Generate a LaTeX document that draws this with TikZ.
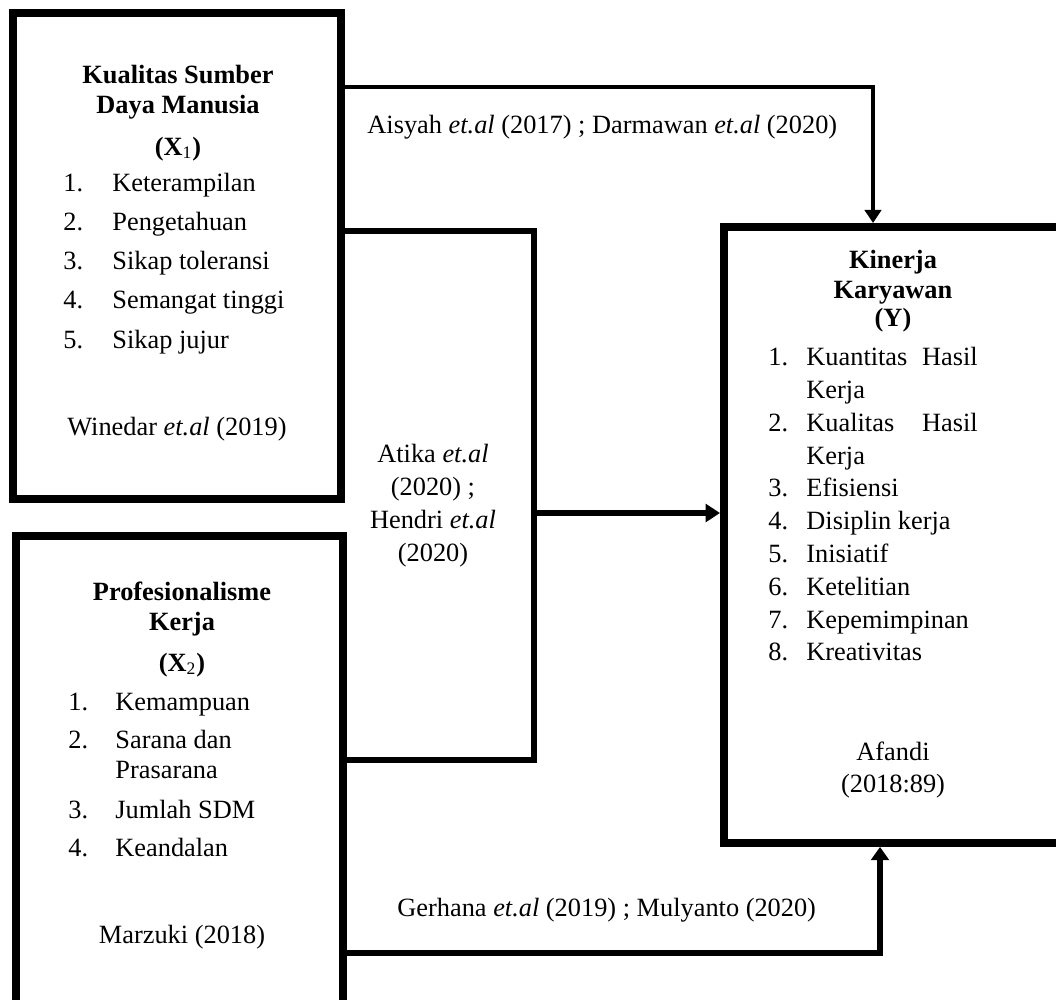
\documentclass[tikz,border=0pt]{standalone}
\usepackage{fontspec}
\setmainfont{Liberation Serif}
\usetikzlibrary{arrows.meta}

\newcommand{\pxu}{0.016cm}
\newcommand{\ukuran}{\fontsize{12}{15}\selectfont}

\tikzset{
	varbox/.style={draw, line width=3.6pt, anchor=north west, inner sep=0pt},
	judul/.style={anchor=base, inner sep=0pt, font=\ukuran\bfseries},
	butir/.style={anchor=base west, inner sep=0pt, font=\ukuran},
	sumber/.style={anchor=base, inner sep=0pt, font=\ukuran},
	hubung/.style={line width=2.5pt}
}

\begin{document}
\begin{tikzpicture}[
						x=\pxu,
						y=-\pxu,
						line join=miter
						]
						
						% Batas gambar
						\useasboundingbox[fill=white] (0,0) rectangle (1056,999);
						
						% Kotak variabel
						\node[varbox, minimum width=328*\pxu, minimum height=486*\pxu] (sdm) at (9,9) {};
						\node[varbox, minimum width=327*\pxu, minimum height=480*\pxu] (prof) at (12,532) {};
						\node[varbox, minimum width=338*\pxu, minimum height=616*\pxu] (kin) at (720,223) {};
						
						% Variabel X1
						\node[judul] (sdmj1) at (178,83) {Kualitas Sumber};
						\node[judul] (sdmj2) at (178,113) {Daya Manusia};
						\node[judul] (sdmj3) at (178,155) {(X\textsubscript{\mdseries 1})};
						\foreach \t [count=\n] in {
							Keterampilan,
							Pengetahuan,
							Sikap toleransi,
							Semangat tinggi,
							Sikap jujur
						}{
							\node[butir] (sdmn\n) at (63,{191+39.25*(\n-1)}) {\n.};
							\node[butir] (sdmi\n) at (112,{191+39.25*(\n-1)}) {\t};
						}
						\node[sumber] (sdms) at (177,435) {Winedar \textit{et.al} (2019)};
						
						% Variabel X2
						\node[judul] (profj1) at (182,600) {Profesionalisme};
						\node[judul] (profj2) at (182,630) {Kerja};
						\node[judul] (profj3) at (182,671) {(X\textsubscript{\mdseries 2})};
						\foreach \y/\t [count=\n] in {
							710/Kemampuan,
							748/Sarana dan,
							818/Jumlah SDM,
							856/Keandalan
						}{
							\node[butir] (profn\n) at (68,\y) {\n.};
							\node[butir] (profi\n) at (115,\y) {\t};
						}
						\node[butir] (profi2b) at (115,778) {Prasarana};
						\node[sumber] (profs) at (182,943) {Marzuki (2018)};
						
						% Variabel Y
						\node[judul] (kinj1) at (893,268) {Kinerja};
						\node[judul] (kinj2) at (893,298) {Karyawan};
						\node[judul] (kinj3) at (893,326) {(Y)};
						\foreach \y/\t [count=\n] in {
							365/{\makebox[78pt]{Kuantitas\hfill Hasil}},
							431/{\makebox[78pt]{Kualitas\hfill Hasil}},
							496/Efisiensi,
							529/Disiplin kerja,
							562/Inisiatif,
							595/Ketelitian,
							628/Kepemimpinan,
							660/Kreativitas
						}{
							\node[butir] (kinn\n) at (768,\y) {\n.};
							\node[butir] (kini\n) at (806,\y) {\t};
						}
						\node[butir] (kini1b) at (806,398) {Kerja};
						\node[butir] (kini2b) at (806,464) {Kerja};
						\node[sumber] (kins1) at (893,760) {Afandi};
						\node[sumber] (kins2) at (893,792) {(2018:89)};
						
						% Rujukan pada garis
						\node[butir] (lblatas) at (367,133) {Aisyah \textit{et.al} (2017) ; Darmawan \textit{et.al} (2020)};
						\node[align=center, font=\ukuran] (lbltengah) at (433,506) {Atika \textit{et.al}\\(2020) ;\\Hendri \textit{et.al}\\(2020)};
						\node[butir] (lblbawah) at (397,916) {Gerhana \textit{et.al} (2019) ; Mulyanto (2020)};
						
						% Garis hubungan
						\draw[line width=2pt, -{Triangle[width=7.5pt,length=6pt]}] (sdm.east |- 0,87) -| (873,0 |- kin.north);
						\draw[hubung] (sdm.east |- 0,231) -- (534,231) -- (534,760) -- (prof.east |- 0,760);
						\coordinate (cabang) at (534,513);
						\draw[line width=3pt, -{Triangle[width=8pt,length=6.5pt]}] (cabang) -- (kin.west |- cabang);
						\draw[line width=2.7pt, -{Triangle[width=8pt,length=6pt]}] (prof.east |- 0,953) -| (880,0 |- kin.south);
						
					\end{tikzpicture}
\end{document}
